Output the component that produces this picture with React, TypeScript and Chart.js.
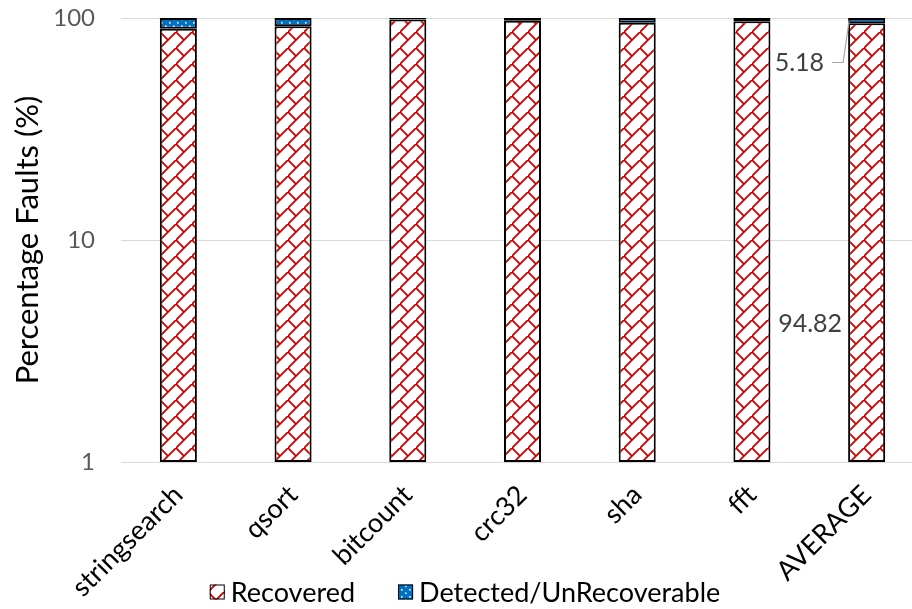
import React, { useEffect, useRef } from 'react';
import { Chart, registerables } from 'chart.js';

Chart.register(...registerables);

const categories = ['stringsearch', 'qsort', 'bitcount', 'crc32', 'sha', 'fft', 'AVERAGE'];
const recovered = [89.5, 91.8, 98.5, 97.2, 95.2, 96.7, 94.82];
const detected = [10.5, 8.2, 1.5, 2.8, 4.8, 3.3, 5.18];
const yTicks = [1, 10, 100];
const seriesNames = ['Recovered', 'Detected/UnRecoverable'];
const yTitle = 'Percentage Faults (%)';
const annotatedIndex = 6;

const FONT = 'Lato, "Open Sans", sans-serif';

function makeHatch(): CanvasPattern {
  const c = document.createElement('canvas');
  c.width = 16;
  c.height = 16;
  const g = c.getContext('2d')!;
  g.fillStyle = '#ffffff';
  g.fillRect(0, 0, 16, 16);
  g.strokeStyle = '#cc0000';
  g.lineWidth = 1.8;
  g.lineCap = 'square';
  g.beginPath();
  g.moveTo(-2, 18);
  g.lineTo(18, -2);
  g.moveTo(0, 0);
  g.lineTo(8, 8);
  g.stroke();
  return g.createPattern(c, 'repeat')!;
}

function makeDots(): CanvasPattern {
  const c = document.createElement('canvas');
  c.width = 8;
  c.height = 7;
  const g = c.getContext('2d')!;
  g.fillStyle = '#0070c0';
  g.fillRect(0, 0, 8, 7);
  g.fillStyle = '#ffffff';
  g.fillRect(1, 1, 1.6, 1.6);
  g.fillRect(5, 4.5, 1.6, 1.6);
  return g.createPattern(c, 'repeat')!;
}

const labelPlugin = {
  id: 'avgLabels',
  afterDatasetsDraw(chart: any) {
    const ctx = chart.ctx as CanvasRenderingContext2D;
    const area = chart.chartArea;
    const m0 = chart.getDatasetMeta(0).data[annotatedIndex];
    const m1 = chart.getDatasetMeta(1).data[annotatedIndex];
    if (!m0 || !m1) return;
    const barLeft = m0.x - m0.width / 2;
    ctx.save();
    ctx.font = `25px ${FONT}`;
    ctx.fillStyle = '#404040';
    ctx.textAlign = 'right';
    ctx.textBaseline = 'middle';
    ctx.fillText(String(recovered[annotatedIndex]), barLeft - 6, area.top + 306);
    const ly = area.top + 44.5;
    const lx = barLeft - 24;
    ctx.fillText(String(detected[annotatedIndex]), lx, ly);
    const segMid = (m1.y + m1.base) / 2;
    ctx.strokeStyle = '#a6a6a6';
    ctx.lineWidth = 1.2;
    ctx.beginPath();
    ctx.moveTo(lx + 8, ly);
    ctx.lineTo(lx + 19, ly);
    ctx.lineTo(barLeft + 1, segMid);
    ctx.stroke();
    ctx.restore();
  },
};

const legendPlugin = {
  id: 'customLegend',
  afterDraw(chart: any) {
    const ctx = chart.ctx as CanvasRenderingContext2D;
    const ds = chart.data.datasets;
    const box = 15;
    const gapBoxText = 6;
    const gapItems = 43;
    ctx.save();
    ctx.font = `27px ${FONT}`;
    ctx.textBaseline = 'middle';
    ctx.textAlign = 'left';
    const widths = ds.map((d: any) => ctx.measureText(d.label).width);
    const total =
      widths.reduce((a: number, w: number) => a + w + box + gapBoxText, 0) + gapItems * (ds.length - 1);
    let x = chart.width / 2 - total / 2 + 3;
    const cy = chart.height - 17;
    ds.forEach((d: any, i: number) => {
      ctx.fillStyle = d.backgroundColor;
      ctx.fillRect(x, cy - box / 2, box, box);
      ctx.strokeStyle = '#000000';
      ctx.lineWidth = 1;
      ctx.strokeRect(x + 0.5, cy - box / 2 + 0.5, box - 1, box - 1);
      x += box + gapBoxText;
      ctx.fillStyle = '#000000';
      ctx.fillText(d.label, x, cy + 1);
      x += widths[i] + gapItems;
    });
    ctx.restore();
  },
};

export default function App() {
  const ref = useRef<HTMLCanvasElement | null>(null);

  useEffect(() => {
    if (!ref.current) return;
    const hatch = makeHatch();
    const dots = makeDots();
    const chart = new Chart(ref.current, {
      type: 'bar',
      data: {
        labels: categories,
        datasets: [
          {
            label: seriesNames[0],
            data: recovered,
            backgroundColor: hatch,
            borderColor: '#000000',
            borderWidth: 2,
            borderSkipped: false,
            categoryPercentage: 1,
            barPercentage: 0.323,
          },
          {
            label: seriesNames[1],
            data: detected,
            backgroundColor: dots,
            borderColor: '#000000',
            borderWidth: 2,
            borderSkipped: false,
            categoryPercentage: 1,
            barPercentage: 0.323,
          },
        ],
      },
      options: {
        responsive: false,
        animation: false,
        layout: { padding: { top: 18, right: 0, left: 0, bottom: 0 } },
        plugins: {
          legend: { display: false },
          tooltip: { enabled: false },
        },
        scales: {
          x: {
            stacked: true,
            grid: { display: false, drawTicks: false },
            border: { display: false },
            ticks: {
              color: '#000000',
              font: { family: FONT, size: 27 },
              minRotation: 45,
              maxRotation: 45,
              padding: 17,
            },
            afterFit: (s: any) => {
              s.height = 147;
            },
          },
          y: {
            type: 'logarithmic',
            stacked: true,
            min: 1,
            max: 100,
            afterBuildTicks: (s: any) => {
              s.ticks = yTicks.map((v) => ({ value: v }));
            },
            ticks: {
              color: '#595959',
              font: { family: FONT, size: 24 },
              padding: 26,
              callback: (v: any) => String(v),
            },
            grid: { color: '#d9d9d9', lineWidth: 1, drawTicks: false },
            border: { display: false },
            title: {
              display: true,
              text: yTitle,
              color: '#000000',
              font: { family: FONT, size: 31 },
              padding: { top: 9, bottom: 0 },
            },
            afterFit: (s: any) => {
              s.width = 121;
              s.paddingTop = 0;
              s.paddingBottom = 0;
            },
          },
        },
      },
      plugins: [labelPlugin, legendPlugin],
    });
    return () => chart.destroy();
  }, []);

  return (
    <div
      style={{
        position: 'fixed',
        left: 0,
        top: 0,
        width: 912,
        height: 609,
        overflow: 'hidden',
        background: '#ffffff',
      }}
    >
      <canvas ref={ref} width={924} height={609} style={{ display: 'block' }} />
    </div>
  );
}
